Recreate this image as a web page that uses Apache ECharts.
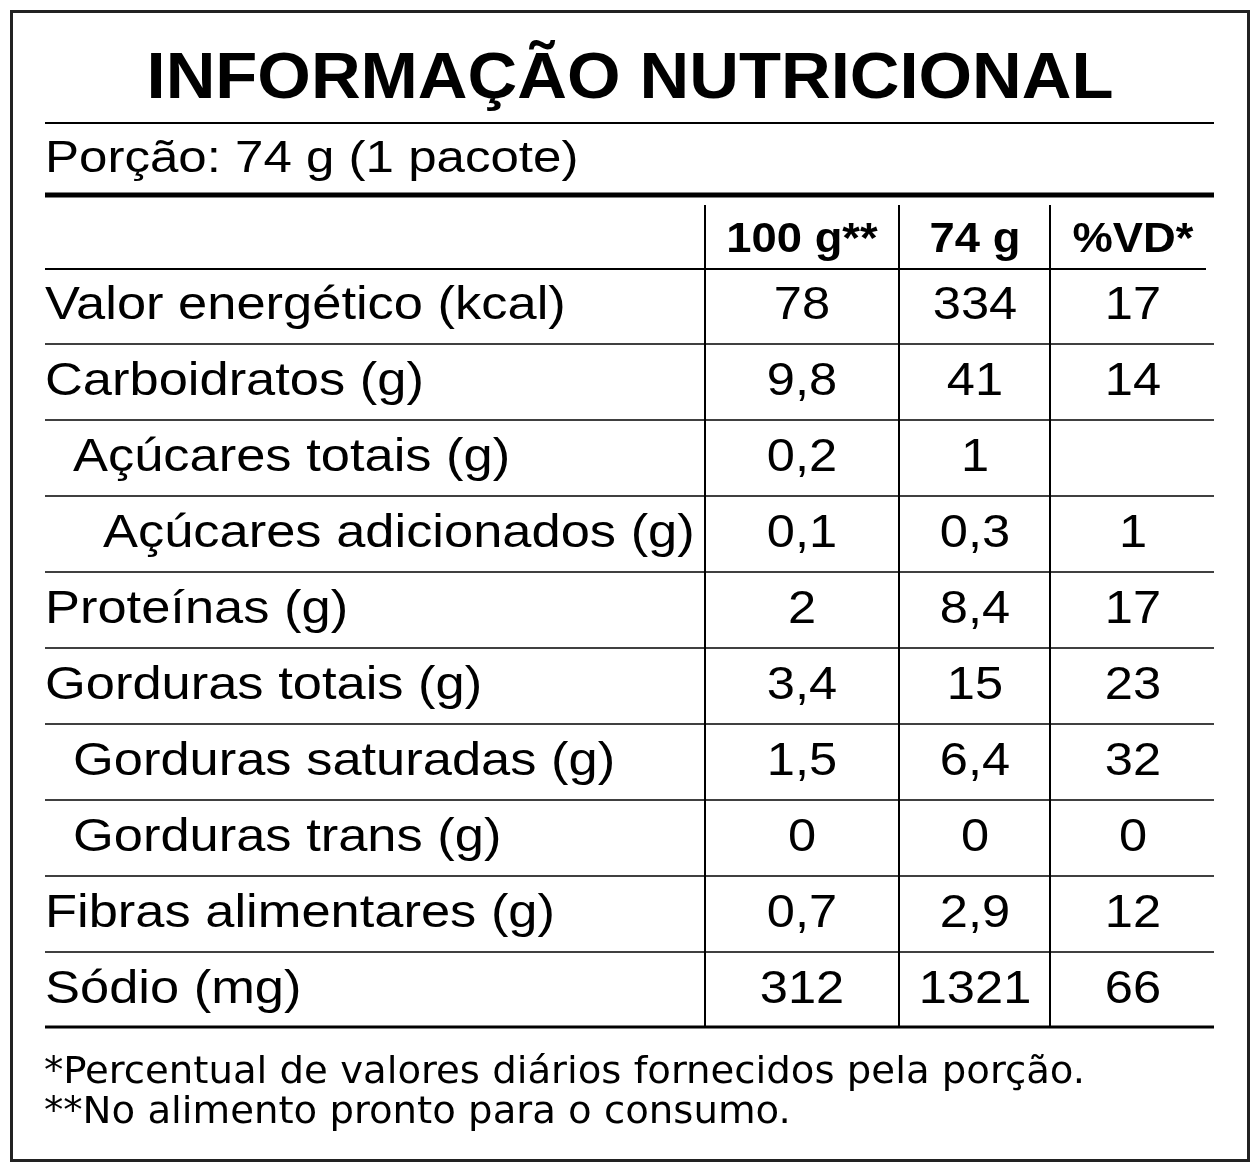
<!DOCTYPE html>
<html><head><meta charset="utf-8">
<script src="https://cdn.jsdelivr.net/npm/echarts@6/dist/echarts.min.js"></script>
<style>html,body{margin:0;padding:0;background:#fff}#c{width:1260px;height:1172px}</style>
</head><body><div id="c"></div>
<script>
const title = 'INFORMAÇÃO NUTRICIONAL';
const portion = 'Porção: 74 g (1 pacote)';
const headers = ['100 g**', '74 g', '%VD*'];
const nutrients = ['Valor energético (kcal)','Carboidratos (g)','Açúcares totais (g)','Açúcares adicionados (g)','Proteínas (g)','Gorduras totais (g)','Gorduras saturadas (g)','Gorduras trans (g)','Fibras alimentares (g)','Sódio (mg)'];
const indentLevels = [0,0,1,2,0,0,1,1,0,0];
const per100g = ['78','9,8','0,2','0,1','2','3,4','1,5','0','0,7','312'];
const perPortion = ['334','41','1','0,3','8,4','15','6,4','0','2,9','1321'];
const vd = ['17','14','','1','17','23','32','0','12','66'];
const footnotes = ['*Percentual de valores diários fornecidos pela porção.','**No alimento pronto para o consumo.'];

const F = '"Liberation Sans", Arial, sans-serif';
const g = [];
const line = (x1,y1,x2,y2,w)=>g.push({type:'line',shape:{x1,y1,x2,y2},style:{stroke:'#000',lineWidth:w}});
const text = (x,y,t,size,sx,opts={})=>g.push({type:'text',x,y,scaleX:sx,style:Object.assign({text:t,fontSize:size,fontFamily:F,fill:'#000',textAlign:'left',textVerticalAlign:'middle'},opts)});

g.push({type:'rect',shape:{x:11.5,y:11.5,width:1237,height:1149},style:{fill:'none',stroke:'#222',lineWidth:3}});
text(630,80,title,64,1.075,{textAlign:'center',fontWeight:'bold'});
line(45,123,1214,123,2);
text(45,160,portion,44,1.16);
line(45,195,1214,195,5);
const colX=[705,899,1050], colC=[802,975,1133];
colX.forEach(x=>line(x,205,x,1027,2));
headers.forEach((h,i)=>text(colC[i],240,h,42,1.08,{textAlign:'center',fontWeight:'bold'}));
line(45,269,1206,269,2);
const rowH=76, y0=306;
const indents=[45,73,103];
nutrients.forEach((n,i)=>{
  const y=y0+i*rowH;
  text(indents[indentLevels[i]],y,n,46,1.14);
  [per100g[i],perPortion[i],vd[i]].forEach((v,j)=>text(colC[j],y,v,46,1.1,{textAlign:'center'}));
  if(i<nutrients.length-1) line(45,y+rowH/2,1214,y+rowH/2,1.5);
});
line(45,1027,1214,1027,3);
footnotes.forEach((f,i)=>text(44,1073+i*40,f,38,1.13,{fontFamily:'"DejaVu Sans Condensed",sans-serif'}));

const chart = echarts.init(document.getElementById('c'));
chart.setOption({animation:false,graphic:{elements:g}});
</script></body></html>
